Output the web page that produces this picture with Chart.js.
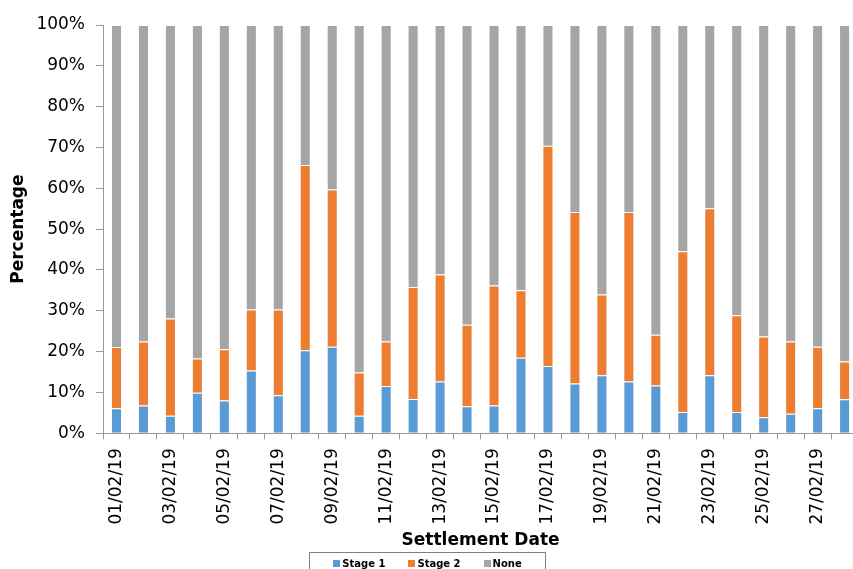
<!DOCTYPE html>
<html>
<head>
<meta charset="utf-8">
<script src="https://cdn.jsdelivr.net/npm/chart.js@4.4.1/dist/chart.umd.min.js"></script>
<style>
  html, body { margin: 0; padding: 0; background: #fff; overflow: hidden; }
  #wrap { width: 874px; height: 576px; position: relative; }
</style>
</head>
<body>
<div id="wrap"><canvas id="grafico"></canvas></div>
<script>
// Valores (percentagem por dia de liquidação)
const datas = [
    '01/02/19', '02/02/19', '03/02/19', '04/02/19', '05/02/19', '06/02/19', '07/02/19',
    '08/02/19', '09/02/19', '10/02/19', '11/02/19', '12/02/19', '13/02/19', '14/02/19',
    '15/02/19', '16/02/19', '17/02/19', '18/02/19', '19/02/19', '20/02/19', '21/02/19',
    '22/02/19', '23/02/19', '24/02/19', '25/02/19', '26/02/19', '27/02/19', '28/02/19'
];
const stage1 = [6.1, 6.8, 4.3, 9.9, 8.0, 15.4, 9.3, 20.3, 21.2, 4.3, 11.6, 8.4, 12.7, 6.6,
    6.8, 18.5, 16.5, 12.2, 14.2, 12.7, 11.7, 5.2, 14.2, 5.2, 3.9, 4.8, 6.1, 8.3];
const stage2 = [15.0, 15.7, 23.8, 8.4, 12.6, 14.9, 21.0, 45.4, 38.5, 10.6, 10.9, 27.4, 26.2, 20.0,
    29.4, 16.5, 53.9, 42.0, 19.8, 41.5, 12.4, 39.4, 40.9, 23.7, 19.8, 17.7, 15.1, 9.3];
const nenhum = [78.9, 77.5, 71.9, 81.7, 79.4, 69.7, 69.7, 34.3, 40.3, 85.1, 77.5, 64.2, 61.1, 73.4,
    63.8, 65.0, 29.6, 45.8, 66.0, 45.8, 75.9, 55.4, 44.9, 71.1, 76.3, 77.5, 78.8, 82.4];
const ticksY = [0, 10, 20, 30, 40, 50, 60, 70, 80, 90, 100];

const corEixo = '#9a9a9a';
const fonte = 'DejaVu Sans';

// legenda própria, com moldura, centrada na janela
const legendaComMoldura = {
    id: 'legendaComMoldura',
    afterDraw(chart) {
        const ctx = chart.ctx;
        const itens = chart.data.datasets.map(ds => ({ texto: ds.label, cor: ds.backgroundColor }));
        const quad = 7, gapTexto = 2, gapItem = 23, margem = 24;
        const centroX = 427.5;
        const centroY = chart.height - 12.5;

        ctx.save();
        ctx.font = `bold 10px ${fonte}`;
        ctx.textBaseline = 'middle';
        const larguras = itens.map(it => quad + gapTexto + ctx.measureText(it.texto).width);
        const total = larguras.reduce((a, b) => a + b, 0) + gapItem * (itens.length - 1);
        let x = centroX - total / 2;

        ctx.strokeStyle = '#7f7f7f';
        ctx.lineWidth = 1;
        ctx.strokeRect(Math.round(x - margem) + 0.5, Math.round(centroY - 12) + 0.5, Math.round(total + margem * 2), 40);

        itens.forEach((it, i) => {
            ctx.fillStyle = it.cor;
            ctx.fillRect(Math.round(x), Math.round(centroY - quad / 2), quad, quad);
            ctx.fillStyle = '#000';
            ctx.fillText(it.texto, x + quad + gapTexto, centroY + 0.5);
            x += larguras[i] + gapItem;
        });
        ctx.restore();
    }
};

new Chart(document.getElementById('grafico').getContext('2d'), {
    type: 'bar',
    data: {
        labels: datas,
        datasets: [
            { label: 'Stage 1', data: stage1, backgroundColor: '#5b9bd5', borderColor: 'rgba(255,255,255,0.45)', borderWidth: 1 },
            { label: 'Stage 2', data: stage2, backgroundColor: '#ed7d31', borderColor: 'rgba(255,255,255,0.45)', borderWidth: 1 },
            { label: 'None', data: nenhum, backgroundColor: '#a5a5a5', borderColor: 'rgba(255,255,255,0.45)', borderWidth: 1 }
        ]
    },
    options: {
        responsive: true,
        maintainAspectRatio: false,
        animation: false,
        layout: { padding: { left: 8, right: 0, top: 25, bottom: 23 } },
        datasets: { bar: { categoryPercentage: 1, barPercentage: 0.41 } },
        plugins: {
            tooltip: { enabled: false },
            legend: { display: false }
        },
        scales: {
            x: {
                stacked: true,
                grid: { display: true, drawOnChartArea: false, color: corEixo, tickLength: 6, offset: true },
                border: { color: corEixo },
                ticks: {
                    autoSkip: false, minRotation: 90, maxRotation: 90, padding: 9,
                    color: '#000', font: { family: fonte, size: 17 },
                    callback: (v, i) => (i % 2 === 0 ? datas[i] : '')
                },
                title: {
                    display: true, text: 'Settlement Date', color: '#000',
                    font: { family: fonte, size: 17, weight: 'bold' },
                    padding: { top: -3, bottom: 2 }
                }
            },
            y: {
                stacked: true,
                min: 0, max: 100,
                afterBuildTicks: axis => { axis.ticks = ticksY.map(v => ({ value: v })); },
                grid: { display: true, drawOnChartArea: false, color: corEixo, tickLength: 7 },
                border: { color: corEixo },
                ticks: {
                    padding: 11, color: '#000', font: { family: fonte, size: 17 },
                    callback: v => v + '%'
                },
                title: {
                    display: true, text: 'Percentage', color: '#000',
                    font: { family: fonte, size: 17, weight: 'bold' },
                    padding: { top: 0, bottom: -3 }
                }
            }
        }
    },
    plugins: [legendaComMoldura]
});
</script>
</body>
</html>
